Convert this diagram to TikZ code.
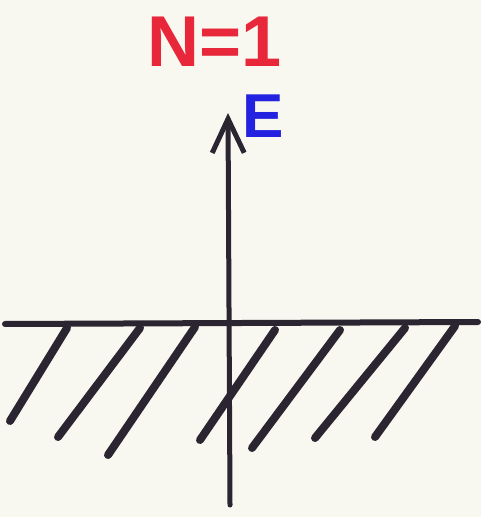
\documentclass[tikz,border=0pt]{standalone}
\usepackage{fontspec}
\setsansfont{Liberation Sans}
\usetikzlibrary{arrows.meta}
\definecolor{paper}{HTML}{F8F7F0}
\definecolor{ink}{HTML}{2A2530}
\definecolor{penred}{HTML}{E8283A}
\definecolor{penblue}{HTML}{2222E0}
\tikzset{
  ground/.style={draw=ink, line width=3pt, line cap=round},
  hatch/.style={draw=ink, line width=4pt, line cap=round},
  field/.style={draw=ink, line width=2.5pt, line cap=round,
                -{Straight Barb[length=17pt, width=16pt]}},
  redlabel/.style={text=penred, font=\fontsize{36}{40}\selectfont\sffamily\bfseries},
  bluelabel/.style={text=penblue, font=\fontsize{31}{36}\selectfont\sffamily\bfseries},
}
\begin{document}
\begin{tikzpicture}[x=0.5pt, y=-0.5pt]

  % ---------- page ----------
  \fill[paper] (0,0) rectangle (481,517);
  \useasboundingbox (0,0) rectangle (481,517);

  % ---------- surface ----------
  \coordinate (gleft) at (5,324);
  \coordinate (gright) at (478,322);
  \draw[ground] (gleft) -- (gright);
  \foreach \xa/\ya/\xb/\yb in {67/328/10/421, 140/328/58/437, 195/327/108/455,
                               275/330/200/440, 340/330/252/448,
                               405/328/315/438, 455/326/375/437}
    \draw[hatch] (\xa,\ya) -- (\xb,\yb);

  % ---------- field arrow ----------
  \coordinate (foot) at (230,505);
  \coordinate (tip) at (228,113);
  \draw[field] (foot) -- (tip);

  % ---------- labels ----------
  \node[redlabel] (count) at (215,42) {N=1};
  \node[bluelabel] (efield) at (263,116) {E};

\end{tikzpicture}
\end{document}
